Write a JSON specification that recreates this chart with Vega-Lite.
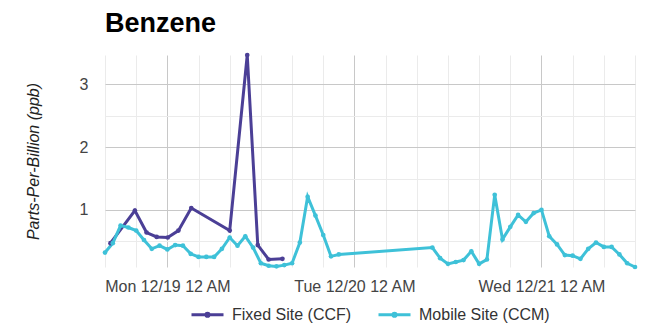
{
  "width": 530,
  "height": 212,
  "autosize": {"type": "none"},
  "padding": {"left": 105, "top": 55, "right": 20, "bottom": 62},
  "title": {"text": "Benzene", "anchor": "start", "frame": "group", "fontSize": 27, "fontWeight": "bold", "color": "#000000", "offset": 11},
  "data": {"values": [
    {"site": "Fixed Site (CCF)", "time": "2022-12-18T16:42", "ppb": 0.47},
    {"site": "Fixed Site (CCF)", "time": "2022-12-18T19:50", "ppb": 0.99},
    {"site": "Fixed Site (CCF)", "time": "2022-12-18T21:20", "ppb": 0.64},
    {"site": "Fixed Site (CCF)", "time": "2022-12-18T22:38", "ppb": 0.57},
    {"site": "Fixed Site (CCF)", "time": "2022-12-19T00:03", "ppb": 0.56},
    {"site": "Fixed Site (CCF)", "time": "2022-12-19T01:25", "ppb": 0.67},
    {"site": "Fixed Site (CCF)", "time": "2022-12-19T03:04", "ppb": 1.03},
    {"site": "Fixed Site (CCF)", "time": "2022-12-19T08:00", "ppb": 0.67},
    {"site": "Fixed Site (CCF)", "time": "2022-12-19T10:15", "ppb": 3.47},
    {"site": "Fixed Site (CCF)", "time": "2022-12-19T11:36", "ppb": 0.44},
    {"site": "Fixed Site (CCF)", "time": "2022-12-19T13:00", "ppb": 0.21},
    {"site": "Fixed Site (CCF)", "time": "2022-12-19T14:46", "ppb": 0.22},
    {"site": "Mobile Site (CCM)", "time": "2022-12-18T16:00", "ppb": 0.32},
    {"site": "Mobile Site (CCM)", "time": "2022-12-18T17:00", "ppb": 0.47},
    {"site": "Mobile Site (CCM)", "time": "2022-12-18T18:00", "ppb": 0.75},
    {"site": "Mobile Site (CCM)", "time": "2022-12-18T19:00", "ppb": 0.72},
    {"site": "Mobile Site (CCM)", "time": "2022-12-18T20:00", "ppb": 0.67},
    {"site": "Mobile Site (CCM)", "time": "2022-12-18T21:00", "ppb": 0.52},
    {"site": "Mobile Site (CCM)", "time": "2022-12-18T22:00", "ppb": 0.38},
    {"site": "Mobile Site (CCM)", "time": "2022-12-18T23:00", "ppb": 0.43},
    {"site": "Mobile Site (CCM)", "time": "2022-12-19T00:00", "ppb": 0.37},
    {"site": "Mobile Site (CCM)", "time": "2022-12-19T01:00", "ppb": 0.44},
    {"site": "Mobile Site (CCM)", "time": "2022-12-19T02:00", "ppb": 0.43},
    {"site": "Mobile Site (CCM)", "time": "2022-12-19T03:00", "ppb": 0.30},
    {"site": "Mobile Site (CCM)", "time": "2022-12-19T04:00", "ppb": 0.25},
    {"site": "Mobile Site (CCM)", "time": "2022-12-19T05:00", "ppb": 0.25},
    {"site": "Mobile Site (CCM)", "time": "2022-12-19T06:00", "ppb": 0.25},
    {"site": "Mobile Site (CCM)", "time": "2022-12-19T07:00", "ppb": 0.38},
    {"site": "Mobile Site (CCM)", "time": "2022-12-19T08:00", "ppb": 0.56},
    {"site": "Mobile Site (CCM)", "time": "2022-12-19T09:00", "ppb": 0.43},
    {"site": "Mobile Site (CCM)", "time": "2022-12-19T10:00", "ppb": 0.58},
    {"site": "Mobile Site (CCM)", "time": "2022-12-19T11:00", "ppb": 0.40},
    {"site": "Mobile Site (CCM)", "time": "2022-12-19T12:00", "ppb": 0.15},
    {"site": "Mobile Site (CCM)", "time": "2022-12-19T13:00", "ppb": 0.11},
    {"site": "Mobile Site (CCM)", "time": "2022-12-19T14:00", "ppb": 0.10},
    {"site": "Mobile Site (CCM)", "time": "2022-12-19T15:00", "ppb": 0.12},
    {"site": "Mobile Site (CCM)", "time": "2022-12-19T16:00", "ppb": 0.15},
    {"site": "Mobile Site (CCM)", "time": "2022-12-19T17:00", "ppb": 0.48},
    {"site": "Mobile Site (CCM)", "time": "2022-12-19T18:00", "ppb": 1.21},
    {"site": "Mobile Site (CCM)", "time": "2022-12-19T19:00", "ppb": 0.91},
    {"site": "Mobile Site (CCM)", "time": "2022-12-19T20:00", "ppb": 0.60},
    {"site": "Mobile Site (CCM)", "time": "2022-12-19T21:00", "ppb": 0.26},
    {"site": "Mobile Site (CCM)", "time": "2022-12-19T22:00", "ppb": 0.29},
    {"site": "Mobile Site (CCM)", "time": "2022-12-20T10:00", "ppb": 0.40},
    {"site": "Mobile Site (CCM)", "time": "2022-12-20T11:00", "ppb": 0.23},
    {"site": "Mobile Site (CCM)", "time": "2022-12-20T12:00", "ppb": 0.14},
    {"site": "Mobile Site (CCM)", "time": "2022-12-20T13:00", "ppb": 0.17},
    {"site": "Mobile Site (CCM)", "time": "2022-12-20T14:00", "ppb": 0.20},
    {"site": "Mobile Site (CCM)", "time": "2022-12-20T15:00", "ppb": 0.34},
    {"site": "Mobile Site (CCM)", "time": "2022-12-20T16:00", "ppb": 0.14},
    {"site": "Mobile Site (CCM)", "time": "2022-12-20T17:00", "ppb": 0.21},
    {"site": "Mobile Site (CCM)", "time": "2022-12-20T18:00", "ppb": 1.24},
    {"site": "Mobile Site (CCM)", "time": "2022-12-20T19:00", "ppb": 0.53},
    {"site": "Mobile Site (CCM)", "time": "2022-12-20T20:00", "ppb": 0.73},
    {"site": "Mobile Site (CCM)", "time": "2022-12-20T21:00", "ppb": 0.92},
    {"site": "Mobile Site (CCM)", "time": "2022-12-20T22:00", "ppb": 0.81},
    {"site": "Mobile Site (CCM)", "time": "2022-12-20T23:00", "ppb": 0.95},
    {"site": "Mobile Site (CCM)", "time": "2022-12-21T00:00", "ppb": 1.00},
    {"site": "Mobile Site (CCM)", "time": "2022-12-21T01:00", "ppb": 0.58},
    {"site": "Mobile Site (CCM)", "time": "2022-12-21T02:00", "ppb": 0.45},
    {"site": "Mobile Site (CCM)", "time": "2022-12-21T03:00", "ppb": 0.28},
    {"site": "Mobile Site (CCM)", "time": "2022-12-21T04:00", "ppb": 0.27},
    {"site": "Mobile Site (CCM)", "time": "2022-12-21T05:00", "ppb": 0.22},
    {"site": "Mobile Site (CCM)", "time": "2022-12-21T06:00", "ppb": 0.38},
    {"site": "Mobile Site (CCM)", "time": "2022-12-21T07:00", "ppb": 0.48},
    {"site": "Mobile Site (CCM)", "time": "2022-12-21T08:00", "ppb": 0.41},
    {"site": "Mobile Site (CCM)", "time": "2022-12-21T09:00", "ppb": 0.41},
    {"site": "Mobile Site (CCM)", "time": "2022-12-21T10:00", "ppb": 0.29},
    {"site": "Mobile Site (CCM)", "time": "2022-12-21T11:00", "ppb": 0.15},
    {"site": "Mobile Site (CCM)", "time": "2022-12-21T12:00", "ppb": 0.09}
  ]},
  "mark": {"type": "line", "strokeWidth": 3, "point": {"filled": true, "size": 22}},
  "encoding": {
    "x": {
      "field": "time", "type": "temporal",
      "scale": {"nice": false},
      "axis": {
        "title": null,
        "values": [
          {"year": 2022, "month": 12, "date": 18, "hours": 16},
          {"year": 2022, "month": 12, "date": 18, "hours": 20},
          {"year": 2022, "month": 12, "date": 19, "hours": 0},
          {"year": 2022, "month": 12, "date": 19, "hours": 4},
          {"year": 2022, "month": 12, "date": 19, "hours": 8},
          {"year": 2022, "month": 12, "date": 19, "hours": 12},
          {"year": 2022, "month": 12, "date": 19, "hours": 16},
          {"year": 2022, "month": 12, "date": 19, "hours": 20},
          {"year": 2022, "month": 12, "date": 20, "hours": 0},
          {"year": 2022, "month": 12, "date": 20, "hours": 4},
          {"year": 2022, "month": 12, "date": 20, "hours": 8},
          {"year": 2022, "month": 12, "date": 20, "hours": 12},
          {"year": 2022, "month": 12, "date": 20, "hours": 16},
          {"year": 2022, "month": 12, "date": 20, "hours": 20},
          {"year": 2022, "month": 12, "date": 21, "hours": 0},
          {"year": 2022, "month": 12, "date": 21, "hours": 4},
          {"year": 2022, "month": 12, "date": 21, "hours": 8},
          {"year": 2022, "month": 12, "date": 21, "hours": 12}
        ],
        "labelExpr": "hours(datum.value) == 0 ? timeFormat(datum.value, '%a %m/%d %I %p') : ''",
        "ticks": false, "domain": false,
        "labelPadding": 11, "labelFontSize": 16, "labelColor": "#444444",
        "labelOverlap": false, "labelFlush": false, "labelBound": false,
        "gridColor": {"condition": {"test": "hours(datum.value) == 0", "value": "#c8c8c8"}, "value": "#ebebeb"}
      }
    },
    "y": {
      "field": "ppb", "type": "quantitative",
      "scale": {"zero": false, "nice": false},
      "axis": {
        "title": "Parts-Per-Billion (ppb)",
        "values": [0.5, 1, 1.5, 2, 2.5, 3],
        "labelExpr": "datum.value % 1 == 0 ? format(datum.value, 'd') : ''",
        "ticks": false, "domain": false,
        "labelPadding": 17, "labelFontSize": 16, "labelColor": "#444444",
        "labelOverlap": false,
        "gridColor": {"condition": {"test": "datum.value % 1 == 0", "value": "#c8c8c8"}, "value": "#ebebeb"},
        "titleFontSize": 16, "titleFontStyle": "italic", "titleFontWeight": "normal", "titleColor": "#222222",
        "titleX": -72, "titleY": 106, "titleAlign": "center", "titleBaseline": "middle"
      }
    },
    "color": {
      "field": "site", "type": "nominal",
      "scale": {"domain": ["Fixed Site (CCF)", "Mobile Site (CCM)"], "range": ["#4b3f96", "#3ec1d8"]},
      "legend": {
        "title": null, "orient": "bottom", "direction": "horizontal", "offset": 3,
        "symbolType": "M-1,0H1M0,-0.1A0.1,0.1,0,1,1,0,0.1A0.1,0.1,0,1,1,0,-0.1",
        "symbolSize": 1024, "symbolStrokeWidth": 3,
        "labelFontSize": 16, "labelColor": "#333333", "labelOffset": 7, "columnPadding": 20
      }
    }
  },
  "config": {
    "font": "Liberation Sans",
    "view": {"stroke": null},
    "legend": {"layout": {"bottom": {"anchor": "middle"}}}
  }
}
